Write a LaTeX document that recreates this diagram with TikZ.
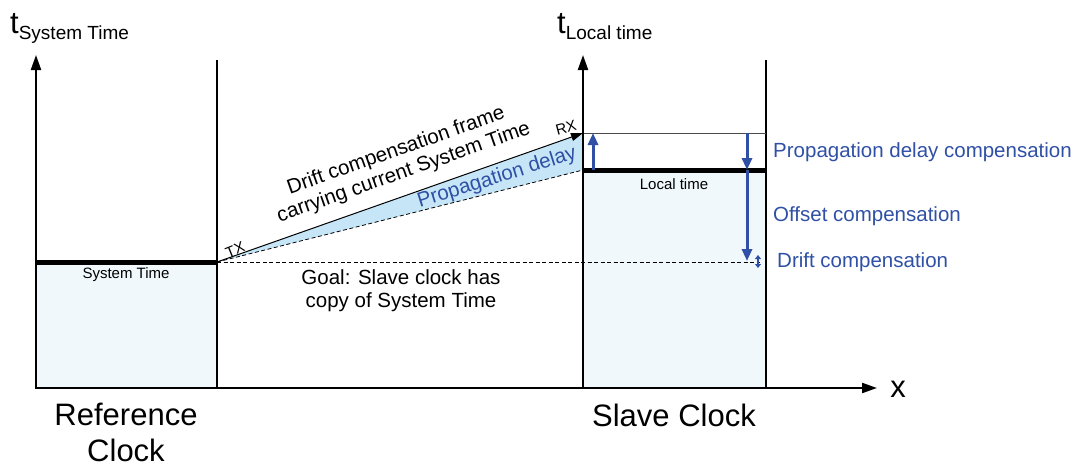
\documentclass[tikz,border=0pt]{standalone}
\usepackage{fontspec}
\setmainfont{Liberation Sans}
\usetikzlibrary{arrows.meta}
\usetikzlibrary{positioning}

\definecolor{compblue}{RGB}{47,80,165}
\definecolor{clockfill}{RGB}{240,248,252}
\definecolor{delayfill}{RGB}{198,230,248}

\begin{document}
\begin{tikzpicture}[x=1pt,y=-1pt,
	axis/.style={line width=2.2pt,-{Triangle[length=15pt,width=10pt]}},
	clockedge/.style={line width=1.7pt},
	timeline/.style={line width=5pt},
	comp/.style={compblue,line width=3pt,-{Triangle[length=12pt,width=10pt]}},
	bigtxt/.style={inner sep=0pt,font=\fontsize{31}{36}\selectfont},
	midtxt/.style={inner sep=0pt,font=\fontsize{20.5}{23}\selectfont},
	smalltxt/.style={inner sep=0pt,font=\fontsize{15}{18}\selectfont},
	comptxt/.style={midtxt,text=compblue,anchor=west}]

	\useasboundingbox (0,0) rectangle (1080,466);

	% points of the two clocks
	\coordinate (tx) at (217,262);
	\coordinate (rx) at (583,133);
	\coordinate (lt) at (583,170);
	\coordinate (goal) at (760,262);

	\fill[clockfill] (36,262) rectangle (217,388);
	\fill[clockfill] (583,170) rectangle (766,388);
	\fill[delayfill] (tx) -- (rx) -- (lt) -- cycle;

	\draw[clockedge] (217,60) -- (217,388);
	\draw[clockedge] (766,60) -- (766,388);
	\draw[gray!60!black,line width=0.8pt] (rx) -- (766,133);
	\draw[timeline] (36,262) -- (tx);
	\draw[timeline] (lt) -- (766,170);

	\draw[axis] (36,389) -- (36,55);
	\draw[axis] (583,389) -- (583,55);
	\draw[axis] (35,388) -- (877,388);

	\draw[dash pattern=on 4pt off 2.5pt,line width=0.8pt] (tx) -- (goal);
	\draw[dash pattern=on 4pt off 2.5pt,line width=0.8pt] (tx) -- (lt);
	\draw[line width=1pt,-{Triangle[length=12pt,width=8pt]}] (tx) -- (rx);

	\draw[comp] (593,170) -- (593,133);
	\draw[comp] (747,133) -- (747,170);
	\draw[comp] (747,170) -- (747,261);
	\draw[compblue,line width=1.2pt,{Triangle[length=4pt,width=6pt]}-{Triangle[length=4pt,width=6pt]}] (758,255) -- (758,268);

	\node[bigtxt,anchor=base west] (tsys) at (10,33) {t\raisebox{-6pt}{\fontsize{19}{22}\selectfont System Time}};
	\node[bigtxt,anchor=base west] (tloc) at (557,33) {t\raisebox{-6pt}{\fontsize{19}{22}\selectfont Local time}};
	\node[bigtxt] (xlabel) at (898,389) {x};

	\node[smalltxt] (systime) at (126,275) {System Time};
	\node[smalltxt] (loctime) at (674,184) {Local time};
	\node[smalltxt,rotate=22] (txlabel) at (235,250) {TX};
	\node[smalltxt,rotate=15] (rxlabel) at (566,128) {RX};

	\node[midtxt,align=center,rotate=19.4] (frame) at (400,162) {Drift compensation frame\\carrying current System Time};
	\node[midtxt,text=compblue,rotate=17.5] (delay) at (497,178) {Propagation delay};
	\node[midtxt,align=center] (goaltxt) at (401,291) {Goal: Slave clock has\\copy of System Time};

	\node[comptxt] (propcomp) at (773,152) {Propagation delay compensation};
	\node[comptxt] (offcomp) at (773,216) {Offset compensation};
	\node[comptxt] (driftcomp) at (777,262) {Drift compensation};

	\node[bigtxt,align=center] (refclock) at (126,432) {Reference\\Clock};
	\node[bigtxt] (slaveclock) at (674,415) {Slave Clock};

\end{tikzpicture}
\end{document}
